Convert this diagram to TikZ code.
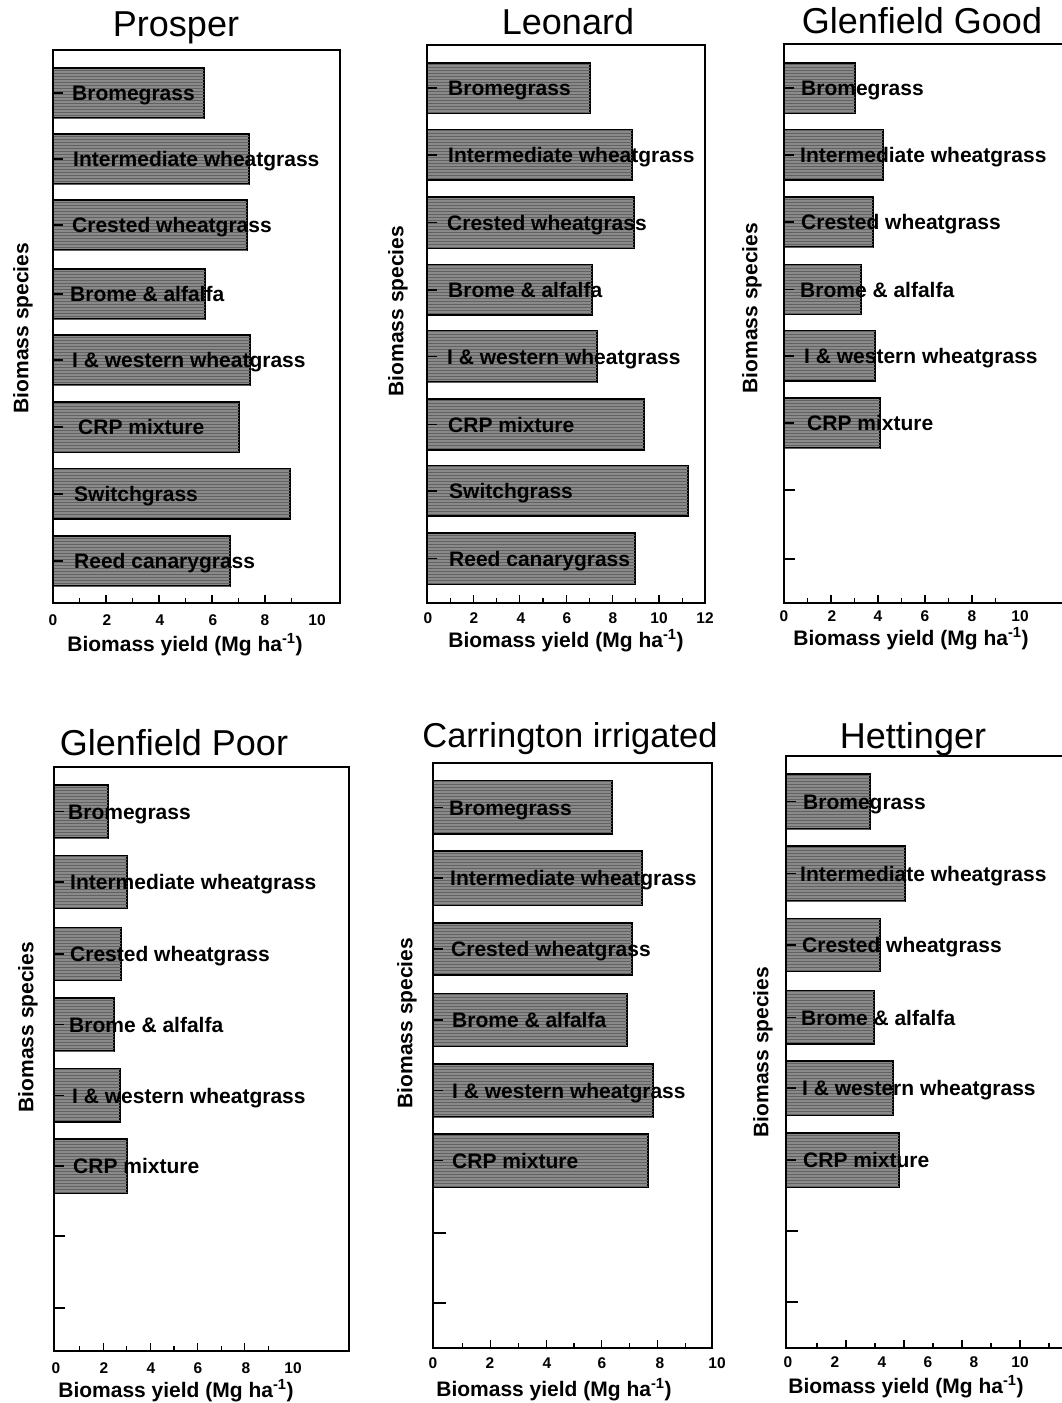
\documentclass[tikz,border=0pt]{standalone}
\usepackage{fontspec}
\setmainfont{Liberation Sans}
\usetikzlibrary{patterns}
\begin{document}
\begin{tikzpicture}[x=1pt,y=-1pt,
  frame/.style={line width=1.8pt},
  barbox/.style={draw=black, line width=1.3pt, fill=black!46,
    postaction={pattern=horizontal lines, pattern color=black!62}},
  ytick/.style={line width=1.2pt},
  xtick/.style={line width=1.2pt},
  barlabel/.style={font=\fontsize{21}{25}\selectfont\bfseries, anchor=base west, inner sep=0pt},
  ptitle/.style={font=\fontsize{36}{40}\selectfont, anchor=base, inner sep=0pt},
  ticklabel/.style={font=\fontsize{15.5}{17}\selectfont\bfseries, anchor=base, inner sep=0pt},
  xtitle/.style={font=\fontsize{21}{25}\selectfont\bfseries, anchor=base, inner sep=0pt},
  ytitle/.style={font=\fontsize{21}{25}\selectfont\bfseries, rotate=90, inner sep=0pt}]
\useasboundingbox[fill=white] (0,0) rectangle (1062,1403);

% ================= Panel 1: Prosper =================
\foreach \t/\b/\e/\lx/\txt [count=\i] in {
  68/118/204/72/Bromegrass,
  134/184/249/73/Intermediate wheatgrass,
  200/250/247/72/Crested wheatgrass,
  269/319/205/70/Brome \& alfalfa,
  335/385/250/72/I \& western wheatgrass,
  402/452/239/78/CRP mixture,
  469/519/290/74/Switchgrass,
  536/586/230/74/Reed canarygrass}{
  \draw[barbox] (53,\t) rectangle (\e,\b);
  \draw[ytick] (53,{(\t+\b)/2}) -- ++(10,0);
  \node[barlabel] (pa\i) at (\lx,{(\t+\b)/2+7.5}) {\txt};
}
\draw[frame] (53,50) rectangle (340,603);
\foreach \k in {1,...,9}{
  \pgfmathsetmacro\h{ifthenelse(mod(\k,2)==0,8,5)}
  \draw[xtick] ({53+26.5*\k},603) -- ++(0,-\h);
}
\foreach \v/\x [count=\i] in {0/53,2/107,4/160,6/213,8/265,10/317}
  \node[ticklabel] (pax\i) at (\x,625) {\v};
\node[ptitle] (pat) at (176,36) {Prosper};
\node[xtitle] (paxt) at (185,651) {Biomass yield (Mg ha\textsuperscript{-1})};
\node[ytitle] (payt) at (23,328) {Biomass species};

% ================= Panel 2: Leonard =================
\foreach \t/\b/\e/\lx/\txt [count=\i] in {
  63/113/590/448/Bromegrass,
  130/180/632/448/Intermediate wheatgrass,
  197/248/634/447/Crested wheatgrass,
  265/315/592/448/Brome \& alfalfa,
  331/382/597/447/I \& western wheatgrass,
  399/450/644/448/CRP mixture,
  466/516/688/449/Switchgrass,
  533/584/635/449/Reed canarygrass}{
  \draw[barbox] (427,\t) rectangle (\e,\b);
  \draw[ytick] (427,{(\t+\b)/2}) -- ++(10,0);
  \node[barlabel] (pb\i) at (\lx,{(\t+\b)/2+7.5}) {\txt};
}
\draw[frame] (427,45) rectangle (705,603);
\foreach \k in {1,...,11}{
  \pgfmathsetmacro\h{ifthenelse(mod(\k,2)==0,8,5)}
  \draw[xtick] ({427+23.2*\k},603) -- ++(0,-\h);
}
\foreach \v/\x [count=\i] in {0/428,2/474,4/521,6/567,8/613,10/659,12/705}
  \node[ticklabel] (pbx\i) at (\x,623) {\v};
\node[ptitle] (pbt) at (568,34) {Leonard};
\node[xtitle] (pbxt) at (566,647) {Biomass yield (Mg ha\textsuperscript{-1})};
\node[ytitle] (pbyt) at (398,311) {Biomass species};

% ================= Panel 3: Glenfield Good =================
\foreach \t/\b/\e/\lx/\txt [count=\i] in {
  63/113/855/801/Bromegrass,
  130/180/883/800/Intermediate wheatgrass,
  197/247/873/801/Crested wheatgrass,
  265/314/861/800/Brome \& alfalfa,
  331/381/875/804/I \& western wheatgrass,
  398/448/880/807/CRP mixture}{
  \draw[barbox] (784,\t) rectangle (\e,\b);
  \draw[ytick] (784,{(\t+\b)/2}) -- ++(10,0);
  \node[barlabel] (pc\i) at (\lx,{(\t+\b)/2+7.5}) {\txt};
}
\foreach \y in {490,559} \draw[ytick] (784,\y) -- ++(11,0);
\draw[frame] (1062,44) -- (784,44) -- (784,603) -- (1062,603);
\foreach \k in {1,...,9}{
  \pgfmathsetmacro\h{ifthenelse(mod(\k,2)==0,8,5)}
  \draw[xtick] ({784+23.5*\k},603) -- ++(0,-\h);
}
\foreach \v/\x [count=\i] in {0/784,2/832,4/878,6/925,8/972,10/1020}
  \node[ticklabel] (pcx\i) at (\x,621) {\v};
\node[ptitle] (pct) at (922,33) {Glenfield Good};
\node[xtitle] (pcxt) at (911,645) {Biomass yield (Mg ha\textsuperscript{-1})};
\node[ytitle] (pcyt) at (752,308) {Biomass species};

% ================= Panel 4: Glenfield Poor =================
\foreach \t/\b/\e/\lx/\txt [count=\i] in {
  785/838/108/68/Bromegrass,
  856/908/127/70/Intermediate wheatgrass,
  928/980/121/70/Crested wheatgrass,
  998/1051/114/69/Brome \& alfalfa,
  1069/1122/120/72/I \& western wheatgrass,
  1139/1193/127/73/CRP mixture}{
  \draw[barbox] (54,\t) rectangle (\e,\b);
  \draw[ytick] (54,{(\t+\b)/2}) -- ++(10,0);
  \node[barlabel] (pd\i) at (\lx,{(\t+\b)/2+7.5}) {\txt};
}
\foreach \y in {1236,1308} \draw[ytick] (54,\y) -- ++(11,0);
\draw[frame] (54,767) rectangle (349,1351);
\foreach \k in {1,...,9}{
  \pgfmathsetmacro\h{ifthenelse(mod(\k,2)==0,8,5)}
  \draw[xtick] ({56+23.6*\k},1351) -- ++(0,-\h);
}
\foreach \v/\x [count=\i] in {0/56,2/104,4/151,6/198,8/246,10/293}
  \node[ticklabel] (pdx\i) at (\x,1373) {\v};
\node[ptitle] (pdt) at (174,755) {Glenfield Poor};
\node[xtitle] (pdxt) at (176,1397) {Biomass yield (Mg ha\textsuperscript{-1})};
\node[ytitle] (pdyt) at (28,1027) {Biomass species};

% ================= Panel 5: Carrington irrigated =================
\foreach \t/\b/\e/\lx/\txt [count=\i] in {
  781/834/612/449/Bromegrass,
  851/905/642/450/Intermediate wheatgrass,
  923/975/632/451/Crested wheatgrass,
  994/1046/627/452/Brome \& alfalfa,
  1064/1117/653/452/I \& western wheatgrass,
  1134/1187/648/452/CRP mixture}{
  \draw[barbox] (433,\t) rectangle (\e,\b);
  \draw[ytick] (433,{(\t+\b)/2}) -- ++(10,0);
  \node[barlabel] (pe\i) at (\lx,{(\t+\b)/2+7.5}) {\txt};
}
\foreach \y in {1233,1303} \draw[ytick] (433,\y) -- ++(13,0);
\draw[frame] (433,763) rectangle (712,1348);
\foreach \k in {1,...,9}{
  \pgfmathsetmacro\h{ifthenelse(mod(\k,2)==0,8,5)}
  \draw[xtick] ({435+27.8*\k},1348) -- ++(0,-\h);
}
\foreach \v/\x [count=\i] in {0/433,2/490,4/547,6/602,8/660,10/717}
  \node[ticklabel] (pex\i) at (\x,1368) {\v};
\node[ptitle, font=\fontsize{34.5}{40}\selectfont] (pet) at (570,747) {Carrington irrigated};
\node[xtitle] (pext) at (554,1396) {Biomass yield (Mg ha\textsuperscript{-1})};
\node[ytitle] (peyt) at (407,1023) {Biomass species};

% ================= Panel 6: Hettinger =================
\foreach \t/\b/\e/\lx/\txt [count=\i] in {
  774/829/870/803/Bromegrass,
  846/901/905/800/Intermediate wheatgrass,
  919/971/880/802/Crested wheatgrass,
  991/1044/874/801/Brome \& alfalfa,
  1061/1115/893/802/I \& western wheatgrass,
  1133/1187/899/803/CRP mixture}{
  \draw[barbox] (786,\t) rectangle (\e,\b);
  \draw[ytick] (786,{(\t+\b)/2}) -- ++(10,0);
  \node[barlabel] (pf\i) at (\lx,{(\t+\b)/2+7.5}) {\txt};
}
\foreach \y in {1231,1302} \draw[ytick] (786,\y) -- ++(12,0);
\draw[frame] (1062,756) -- (786,756) -- (786,1348) -- (1062,1348);
\foreach \k in {1,...,9}{
  \pgfmathsetmacro\h{ifthenelse(mod(\k,2)==0,8,5)}
  \draw[xtick] ({788+29*\k},1348) -- ++(0,-\h);
}
\foreach \v/\x [count=\i] in {0/788,2/835,4/882,6/928,8/974,10/1020}
  \node[ticklabel] (pfx\i) at (\x,1367) {\v};
\node[ptitle] (pft) at (913,748) {Hettinger};
\node[xtitle] (pfxt) at (906,1393) {Biomass yield (Mg ha\textsuperscript{-1})};
\node[ytitle] (pfyt) at (763,1052) {Biomass species};
\end{tikzpicture}
\end{document}
